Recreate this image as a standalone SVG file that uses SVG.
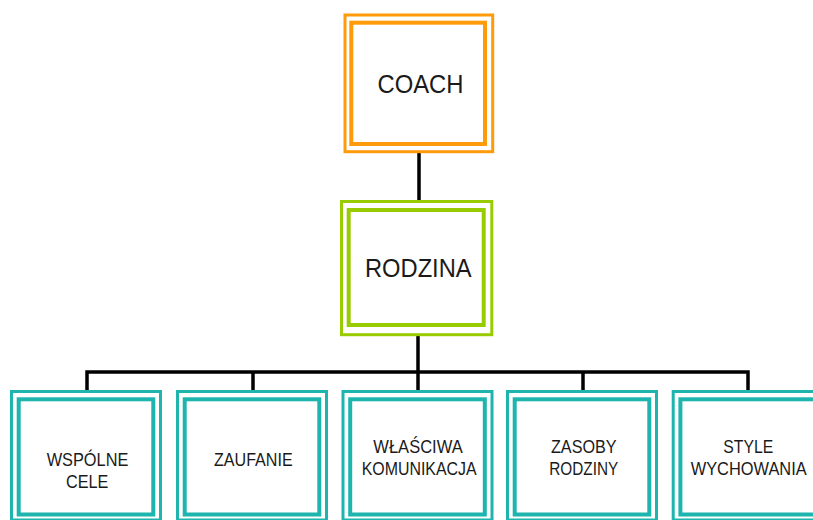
<svg xmlns="http://www.w3.org/2000/svg" width="813" height="520" viewBox="0 0 813 520">
<style>
.o{fill:#fff;stroke-width:3}
.i{fill:none;stroke-width:4}
.orange{stroke:#FF9A0A}
.green{stroke:#99CC00}
.teal{stroke:#1DB5AE}
.t{font-family:"Liberation Sans",Arial,sans-serif;fill:#1a1a1a;text-anchor:middle}
.big{font-size:25px}
.sm{font-size:19px}
.c{fill:none;stroke:#000;stroke-width:3.5}
</style>
<rect width="813" height="520" fill="#fff"/>
<g id="connectors">
<line class="c" x1="419" y1="152" x2="419" y2="202"/>
<line class="c" x1="418" y1="335" x2="418" y2="372"/>
<polyline class="c" points="87,392 87,372 748,372 748,392"/>
<line class="c" x1="253" y1="372" x2="253" y2="392"/>
<line class="c" x1="418" y1="372" x2="418" y2="392"/>
<line class="c" x1="583" y1="372" x2="583" y2="392"/>
</g>
<g id="coach">
<rect class="o orange" x="345" y="15" width="147.7" height="136.7"/>
<rect class="i orange" x="351.3" y="22.7" width="133.7" height="121.3"/>
<text class="t big" x="420.5" y="92.5" textLength="86" lengthAdjust="spacingAndGlyphs">COACH</text>
</g>
<g id="rodzina">
<rect class="o green" x="341.5" y="201.5" width="150.3" height="133.2"/>
<rect class="i green" x="348.7" y="210" width="135" height="115"/>
<text class="t big" x="418.3" y="277.3" textLength="106.7" lengthAdjust="spacingAndGlyphs">RODZINA</text>
</g>
<g id="wspolne-cele">
<rect class="o teal" x="11.5" y="391.5" width="149" height="128.5"/>
<rect class="i teal" x="18.7" y="399.3" width="134.6" height="115.2"/>
<text class="t sm" x="87.5" y="466" textLength="81.7" lengthAdjust="spacingAndGlyphs">WSPÓLNE</text>
<text class="t sm" x="87.2" y="488.3" textLength="42.3" lengthAdjust="spacingAndGlyphs">CELE</text>
</g>
<g id="zaufanie">
<rect class="o teal" x="177.5" y="391.5" width="149" height="128.5"/>
<rect class="i teal" x="184.7" y="399.3" width="134.6" height="115.2"/>
<text class="t sm" x="253.3" y="466" textLength="78.7" lengthAdjust="spacingAndGlyphs">ZAUFANIE</text>
</g>
<g id="wlasciwa-komunikacja">
<rect class="o teal" x="343" y="391.5" width="149" height="128.5"/>
<rect class="i teal" x="350.2" y="399.3" width="134.6" height="115.2"/>
<text class="t sm" x="418" y="452.7" textLength="89.3" lengthAdjust="spacingAndGlyphs">WŁAŚCIWA</text>
<text class="t sm" x="419.2" y="475" textLength="115" lengthAdjust="spacingAndGlyphs">KOMUNIKACJA</text>
</g>
<g id="zasoby-rodziny">
<rect class="o teal" x="507.5" y="391.5" width="149" height="128.5"/>
<rect class="i teal" x="514.7" y="399.3" width="134.6" height="115.2"/>
<text class="t sm" x="583.8" y="453.3" textLength="65.7" lengthAdjust="spacingAndGlyphs">ZASOBY</text>
<text class="t sm" x="583.8" y="475" textLength="69" lengthAdjust="spacingAndGlyphs">RODZINY</text>
</g>
<g id="style-wychowania">
<rect class="o teal" x="673.2" y="391.5" width="149" height="128.5"/>
<rect class="i teal" x="680.4" y="399.3" width="134.6" height="115.2"/>
<text class="t sm" x="748.3" y="453.3" textLength="50" lengthAdjust="spacingAndGlyphs">STYLE</text>
<text class="t sm" x="748.7" y="475" textLength="116" lengthAdjust="spacingAndGlyphs">WYCHOWANIA</text>
</g>
</svg>
